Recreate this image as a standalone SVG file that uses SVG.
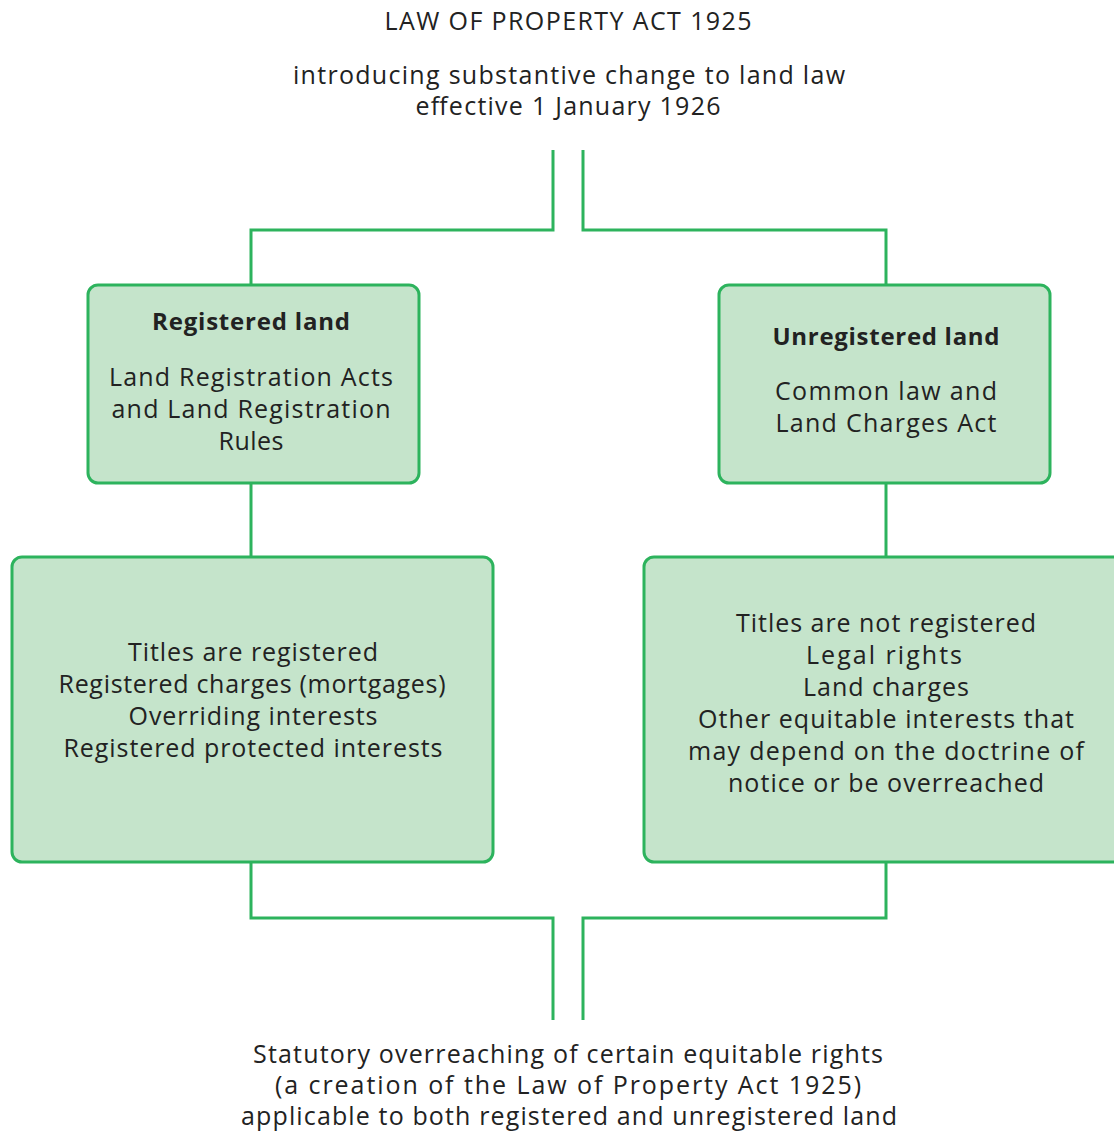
<svg xmlns="http://www.w3.org/2000/svg" width="1114" height="1133" viewBox="0 0 1114 1133">
<style>
.t{font-family:"Open Sans","Noto Sans",sans-serif;font-size:25px;fill:#222;text-anchor:middle}
.b{font-weight:bold;font-size:24px}
.box{fill:#c5e4cb;stroke:#2db35d;stroke-width:3}
.c{fill:none;stroke:#2db35d;stroke-width:3}
</style>
<rect width="1114" height="1133" fill="#fff"/>
<g id="header">
<text class="t" x="568" y="30" textLength="367">LAW OF PROPERTY ACT 1925</text>
<text class="t" x="569" y="84" textLength="552">introducing substantive change to land law</text>
<text class="t" x="568" y="115" textLength="305">effective 1 January 1926</text>
</g>
<g id="connectors">
<path class="c" d="M553 150V230H251V285"/>
<path class="c" d="M583 150V230H886V285"/>
<path class="c" d="M251 483V557"/>
<path class="c" d="M886 483V557"/>
<path class="c" d="M251 862V918H553V1020"/>
<path class="c" d="M886 862V918H583V1020"/>
</g>
<g id="registered">
<rect class="box" x="88" y="285" width="331" height="198" rx="10"/>
<text class="t b" x="251" y="330" textLength="198">Registered land</text>
<text class="t" x="251" y="386" textLength="284">Land Registration Acts</text>
<text class="t" x="251" y="418" textLength="279">and Land Registration</text>
<text class="t" x="251" y="450" textLength="65">Rules</text>
</g>
<g id="unregistered">
<rect class="box" x="719" y="285" width="331" height="198" rx="10"/>
<text class="t b" x="886" y="345" textLength="227">Unregistered land</text>
<text class="t" x="886" y="400" textLength="222">Common law and</text>
<text class="t" x="886" y="432" textLength="221">Land Charges Act</text>
</g>
<g id="registered-detail">
<rect class="box" x="12" y="557" width="481" height="305" rx="10"/>
<text class="t" x="253" y="661" textLength="250">Titles are registered</text>
<text class="t" x="252" y="693" textLength="387">Registered charges (mortgages)</text>
<text class="t" x="253" y="725" textLength="249">Overriding interests</text>
<text class="t" x="253" y="757" textLength="379">Registered protected interests</text>
</g>
<g id="unregistered-detail">
<rect class="box" x="644" y="557" width="480" height="305" rx="10"/>
<text class="t" x="886" y="632" textLength="300">Titles are not registered</text>
<text class="t" x="884" y="664" textLength="156">Legal rights</text>
<text class="t" x="886" y="696" textLength="166">Land charges</text>
<text class="t" x="886" y="728" textLength="376">Other equitable interests that</text>
<text class="t" x="886" y="760" textLength="396">may depend on the doctrine of</text>
<text class="t" x="886" y="792" textLength="316">notice or be overreached</text>
</g>
<g id="footer">
<text class="t" x="568" y="1063" textLength="630">Statutory overreaching of certain equitable rights</text>
<text class="t" x="568" y="1094" textLength="586">(a creation of the Law of Property Act 1925)</text>
<text class="t" x="569" y="1125" textLength="656">applicable to both registered and unregistered land</text>
</g>
</svg>
